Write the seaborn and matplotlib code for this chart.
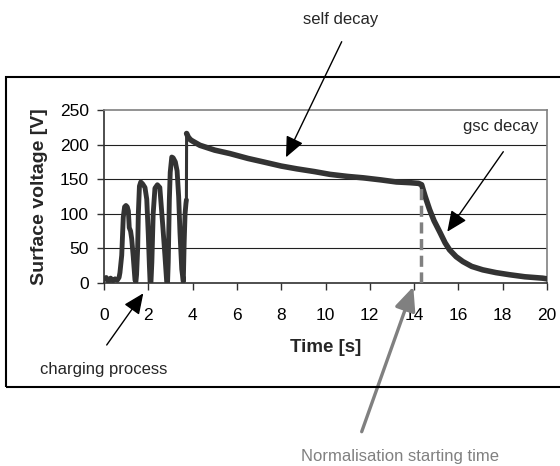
import numpy as np
import pandas as pd
import matplotlib
matplotlib.use("Agg")
import matplotlib.pyplot as plt
from matplotlib.patches import Rectangle
import seaborn as sns

# ---- data ----
charge_t = [0.0, 0.1, 0.2, 0.3, 0.4, 0.5, 0.6, 0.68, 0.72, 0.80, 0.87, 0.93, 0.99, 1.05, 1.10,
            1.14, 1.20, 1.25, 1.32, 1.40, 1.44, 1.47, 1.52, 1.55, 1.60, 1.66, 1.75, 1.85, 1.93,
            2.00, 2.05, 2.08, 2.12, 2.16, 2.22, 2.30, 2.41, 2.52, 2.60, 2.66, 2.75, 2.83, 2.87,
            2.90, 2.95, 2.99, 3.06, 3.12, 3.22, 3.30, 3.37, 3.43, 3.51, 3.58, 3.62, 3.66, 3.70, 3.72]
charge_v = [5, 8, 2, 7, 3, 6, 4, 8, 15, 40, 95, 110, 112, 110, 104,
            80, 75, 64, 38, 4, 2, 12, 50, 100, 140, 146, 143, 138, 121,
            70, 25, 2, 1, 30, 100, 137, 142, 138, 105, 80, 40, 2, 1,
            30, 120, 160, 182, 181, 175, 162, 125, 73, 20, 2, 60, 100, 115, 120]
decay_t = [3.73, 3.80, 3.90, 4.00, 4.33, 5.00, 5.69, 6.50, 7.19, 8.00, 8.70, 9.50, 10.20,
           11.00, 11.70, 12.50, 13.20, 13.80, 14.20, 14.34, 14.50, 14.70, 14.90, 15.17,
           15.40, 15.60, 15.90, 16.20, 16.60, 17.10, 17.70, 18.30, 19.00, 19.80, 20.00]
decay_v = [216, 211, 207, 205, 199, 192, 187, 180, 175, 169, 165, 161, 157,
           154, 152, 149, 146, 145, 144, 142, 125, 106, 90, 73,
           58, 48, 38, 31, 24, 19, 15, 12, 9, 7, 6]
norm_t = [14.3, 14.3]
norm_v = [0, 145]
x_ticks = list(range(0, 21, 2))
y_ticks = [0, 50, 100, 150, 200, 250]

df_charge = pd.DataFrame({"t": charge_t, "v": charge_v})
df_decay = pd.DataFrame({"t": decay_t, "v": decay_v})

sns.set_theme(style="white")
plt.rcParams["font.family"] = ["Liberation Sans", "DejaVu Sans"]

W, H = 560, 466
fig = plt.figure(figsize=(W / 100, H / 100), dpi=100)
fig.patch.set_facecolor("white")

def fx(x):
    return x / W

def fy(y):
    return 1 - y / H

# outer chart frame
fig.patches.append(Rectangle((fx(6), fy(387)), 1.2, fy(77) - fy(387), transform=fig.transFigure,
                             fill=False, edgecolor="black", linewidth=1.5, zorder=0))

ax = fig.add_axes([fx(104), fy(283), fx(547) - fx(104), fy(110) - fy(283)])
ax.set_facecolor("white")

line_col = "#333333"
sns.lineplot(data=df_charge, x="t", y="v", ax=ax, color=line_col, linewidth=3.5,
             estimator=None, sort=False, zorder=3)
sns.lineplot(data=df_decay, x="t", y="v", ax=ax, color=line_col, linewidth=4.0,
             estimator=None, sort=False, zorder=3)
# connect charging and decay (vertical jump)
ax.plot([charge_t[-1], decay_t[0]], [charge_v[-1], decay_v[0]], color=line_col, lw=2.2, zorder=3)
ax.plot(norm_t, norm_v, color="#808080", lw=2.5, linestyle=(0, (3.2, 1.6)), zorder=4)

ax.set_xlim(0, 20)
ax.set_ylim(0, 250)
ax.set_xticks(x_ticks)
ax.set_yticks(y_ticks)
for yv in y_ticks[1:-1]:
    ax.axhline(yv, color="#202020", lw=0.8, zorder=1)

for side in ["top", "right"]:
    ax.spines[side].set_color("#808080")
    ax.spines[side].set_linewidth(1.2)
for side in ["left", "bottom"]:
    ax.spines[side].set_color("#303030")
    ax.spines[side].set_linewidth(1.2)

ax.tick_params(axis="x", direction="out", length=5, width=1, color="#303030", pad=13,
               labelsize=12.5, labelcolor="black", bottom=True)
ax.tick_params(axis="y", direction="out", length=5, width=1, color="#303030", pad=6,
               labelsize=12.5, labelcolor="black", left=True)
ax.set_xlabel("")
ax.set_ylabel("")

fig.text(fx(326), fy(348), "Time [s]", ha="center", va="center", fontsize=13.5, fontweight="bold")
fig.text(fx(40), fy(197), "Surface voltage [V]", ha="center", va="center", rotation=90,
         fontsize=14, fontweight="bold")

# annotations
fig.text(fx(341), fy(24), "self decay", ha="center", va="baseline", fontsize=12)
fig.text(fx(538), fy(131), "gsc decay", ha="right", va="baseline", fontsize=12)
fig.text(fx(104), fy(374), "charging process", ha="center", va="baseline", fontsize=12)
fig.text(fx(400), fy(461), "Normalisation starting time", ha="center", va="baseline",
         fontsize=12, color="#808080")

def arrow(start, tip, color="black", lw=1.0, scale=14):
    ax.annotate("", xy=(tip[0], H - tip[1]), xytext=(start[0], H - start[1]),
                xycoords="figure pixels", textcoords="figure pixels",
                arrowprops=dict(arrowstyle="-|>,head_length=0.9,head_width=0.4",
                                color=color, lw=lw, mutation_scale=scale,
                                shrinkA=0, shrinkB=0),
                annotation_clip=False, zorder=6)

arrow((341.7, 41.7), (286, 157.3))
arrow((503.3, 151.7), (447.3, 231.7))
arrow((106.7, 345), (143.3, 293.3))
arrow((361.7, 431.7), (413.3, 286.7), color="#808080", lw=2.4, scale=16)

fig.savefig("out.png", dpi=100, facecolor="white")
